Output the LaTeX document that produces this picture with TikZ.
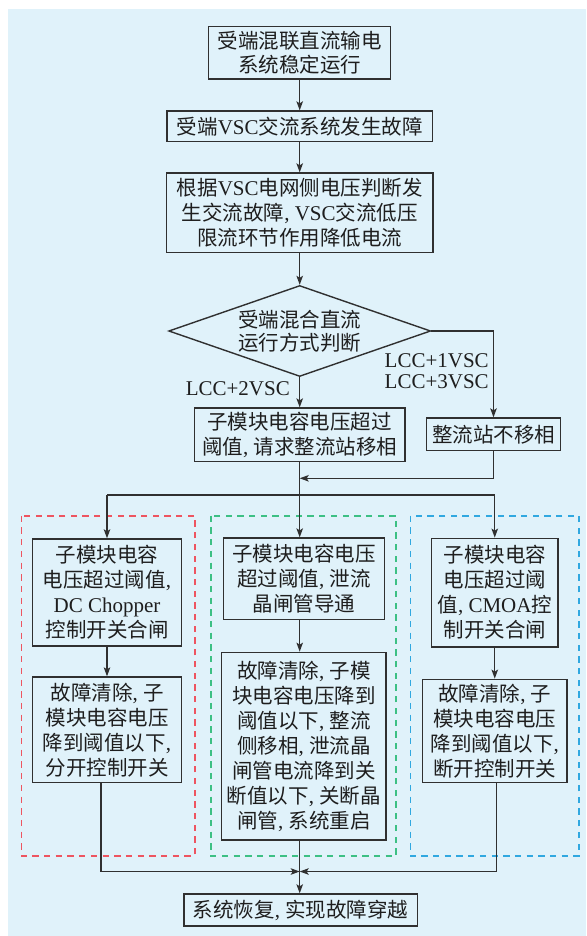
\documentclass[tikz,border=0pt]{standalone}
\usepackage{fontspec}
\setmainfont{Noto Sans CJK SC}
\newfontfamily\enfont{Liberation Serif}
\usetikzlibrary{shapes.geometric,arrows.meta}
\newcommand\en[1]{{\enfont\fontsize{21}{25}\selectfont #1}}
\definecolor{bgc}{HTML}{E0F2FA}
\definecolor{linec}{HTML}{303030}
\definecolor{txtc}{HTML}{1E1E1E}
\definecolor{redd}{HTML}{EE5560}
\definecolor{greend}{HTML}{3CC084}
\definecolor{blued}{HTML}{30A8E0}
\begin{document}
\begin{tikzpicture}[x=1pt,y=-1pt,
  box/.style={draw=linec, line width=1.4pt, inner sep=0pt, align=center, text=txtc,
    font=\fontsize{20.5}{25}\selectfont},
  dia/.style={draw=linec, line width=1.4pt, diamond, aspect=2.88, inner sep=0pt, align=center,
    text=txtc, font=\fontsize{20.5}{23}\selectfont, minimum width=262, minimum height=91},
  lbl/.style={inner sep=0pt, align=center, text=txtc, font=\enfont\fontsize{21}{21}\selectfont},
  conn/.style={draw=linec, line width=1.3pt},
  arr/.style={conn, -{Stealth[length=9pt,width=6.5pt,inset=2pt]}},
  frame/.style={line width=1.6pt, dash pattern=on 6.3pt off 5.4pt}]
\useasboundingbox (0,0) rectangle (586,936);
\fill[bgc] (8.2,9.5) rectangle (586,936);

% main column
\node[box, minimum width=182, minimum height=52.3, font=\fontsize{20.5}{23.5}\selectfont] (b1) at (299.7,52.9)
  {受端混联直流输电\\系统稳定运行};
\node[box, minimum width=265.4, minimum height=30.3] (b2) at (299.7,126.2)
  {受端\en{VSC}交流系统发生故障};
\node[box, minimum width=266.4, minimum height=79.3] (b3) at (299.7,212.7)
  {根据\en{VSC}电网侧电压判断发\\生交流故障\en{, VSC}交流低压\\限流环节作用降低电流};
\node[dia] (d) at (299.7,331) {受端混合直流\\运行方式判断};
\node[box, minimum width=210.3, minimum height=53.7] (lb) at (299.7,434.9)
  {子模块电容电压超过\\阈值\en{, }请求整流站移相};
\node[box, minimum width=133.5, minimum height=32.7] (rb) at (493.5,434.4)
  {整流站不移相};
\node[lbl] (l2) at (237.8,389) {LCC+2VSC};
\node[lbl] (l13) at (436.7,371.2) {LCC+1VSC\\LCC+3VSC};

% columns
\node[box, minimum width=148.8, minimum height=107] (lt) at (107,592.5)
  {子模块电容\\电压超过阈值\en{,}\\\en{DC Chopper}\\控制开关合闸};
\node[box, minimum width=149.5, minimum height=105.7] (lbx) at (107,729.9)
  {故障清除\en{, }子\\模块电容电压\\降到阈值以下\en{,}\\分开控制开关};
\node[box, minimum width=161.2, minimum height=81.3] (mt) at (303.8,578.7)
  {子模块电容电压\\超过阈值\en{, }泄流\\晶闸管导通};
\node[box, minimum width=164.4, minimum height=187.7] (mb) at (303.8,746.2)
  {故障清除\en{, }子模\\块电容电压降到\\阈值以下\en{, }整流\\侧移相\en{, }泄流晶\\闸管电流降到关\\断值以下\en{, }关断晶\\闸管\en{, }系统重启};
\node[box, minimum width=126.3, minimum height=108.7] (rt) at (494.75,592.65)
  {子模块电容\\电压超过阈\\值\en{, CMOA}控\\制开关合闸};
\node[box, minimum width=144.3, minimum height=103.4] (rbx) at (494.75,731)
  {故障清除\en{, }子\\模块电容电压\\降到阈值以下\en{,}\\断开控制开关};
\node[box, minimum width=233.5, minimum height=32] (bot) at (300.6,910)
  {系统恢复\en{, }实现故障穿越};

% dashed frames
\draw[frame, draw=redd] (21.3,515.7) rectangle (194.7,855.7);
\draw[frame, draw=greend] (210.8,515.7) rectangle (396.1,855.7);
\draw[frame, draw=blued] (410.3,515.7) rectangle (579.2,855.7);

% coordinates
\coordinate (j1) at (299.7,478.3);
\coordinate (barL) at (107,495);
\coordinate (barR) at (494.75,495);
\coordinate (jc) at (299.7,871.5);
\coordinate (jl) at (101,871.5);
\coordinate (jr) at (496.3,871.5);

% connectors
\draw[arr] (b1) -- (b2);
\draw[arr] (b2) -- (b3);
\draw[arr] (b3) -- (d);
\draw[arr] (d) -- (lb);
\draw[arr] (d.east) -| (rb.north);
\draw[arr] (rb.south) |- (j1);
\draw[arr] (lb.south) -- (lb.south |- mt.north);
\draw[conn] (barL) -- (barR);
\draw[arr] (barL) -- (lt.north);
\draw[arr] (barR) -- (rt.north);
\draw[arr] (lt) -- (lbx);
\draw[arr] (jc |- mt.south) -- (jc |- mb.north);
\draw[arr] (rt) -- (rbx);
\draw[arr] (jl |- lbx.south) |- (jc);
\draw[arr] (jr |- rbx.south) |- (jc);
\draw[arr] (jc |- mb.south) -- (jc |- bot.north);
\end{tikzpicture}
\end{document}
